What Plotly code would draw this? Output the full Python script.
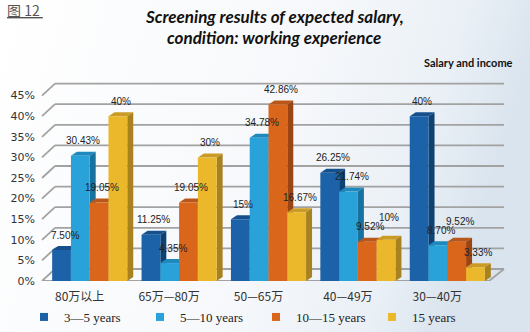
import base64
import plotly.graph_objects as go

# ---------------- data ----------------
categories = ["80万以上", "65万—80万", "50—65万", "40—49万", "30—40万"]
series_names = ["3—5 years", "5—10 years", "10—15 years", "15 years"]
v_3_5 = [7.50, 11.25, 15.00, 26.25, 40.00]
v_5_10 = [30.43, 4.35, 34.78, 21.74, 8.70]
v_10_15 = [19.05, 19.05, 42.86, 9.52, 9.52]
v_15 = [40.00, 30.00, 16.67, 10.00, 3.33]
y_ticks = [0, 5, 10, 15, 20, 25, 30, 35, 40, 45]
series_values = [v_3_5, v_5_10, v_10_15, v_15]

# ---------------- style ----------------
front_cols = ["#1B62A8", "#29A1D9", "#D9661B", "#EBB72B"]
top_cols = ["#15508C", "#1F88BD", "#B9561A", "#CB9C25"]
side_cols = ["#0F4273", "#17729F", "#9C4514", "#A8821E"]
W, H = 530, 332
PL, PR, PB = 45, 492, 281          # plot area pixels
Y_MAX = 48.5
PX_PER_UNIT = 4.12
PT = PB - Y_MAX * PX_PER_UNIT
CAT_PX = (PR - PL) / 5
BARGAP = 0.16
DX = 6 / CAT_PX                    # bar depth (x, category units)
DY = 4 / PX_PER_UNIT               # bar depth (y, percent units)
WALL_DY = 12 / PX_PER_UNIT         # back wall offset
GRID = "#A2A2A2"
GRID_W = 1.8
LABEL_SHIFT = 15

def fmt(v):
    return f"{int(round(v))}%" if abs(v - round(v)) < 1e-9 else f"{v:.2f}%"

CHAR_W = {"%": 8.9, ".": 2.8}
def text_w(s):
    return sum(CHAR_W.get(c, 5.56) for c in s)

fig = go.Figure()
nser = len(series_values)
bw = (1 - BARGAP) / nser
offsets = [(-(1 - BARGAP) / 2 + bw * (k + 0.5)) for k in range(nser)]

shapes = []
annotations = []

# back wall grid lines + slanted connectors
for t in y_ticks:
    shapes.append(dict(type="line", xref="paper", yref="y", x0=42 / W, x1=55 / W,
                       y0=t, y1=t + WALL_DY, line=dict(color=GRID, width=GRID_W), layer="below"))
    shapes.append(dict(type="line", xref="paper", yref="y", x0=55 / W, x1=504 / W,
                       y0=t + WALL_DY, y1=t + WALL_DY, line=dict(color=GRID, width=GRID_W), layer="below"))
# floor front edge and right edge
shapes.append(dict(type="line", xref="paper", yref="y", x0=42 / W, x1=489 / W, y0=0, y1=0,
                   line=dict(color=GRID, width=GRID_W), layer="below"))
shapes.append(dict(type="line", xref="paper", yref="y", x0=489 / W, x1=504 / W, y0=0, y1=WALL_DY,
                   line=dict(color=GRID, width=GRID_W), layer="below"))

for k, (name, vals) in enumerate(zip(series_names, series_values)):
    fig.add_trace(go.Bar(
        x=categories, y=vals, name=name,
        marker=dict(color=front_cols[k], line=dict(width=0)),
        showlegend=False, hoverinfo="skip",
    ))
    # legend proxy with small square symbol
    fig.add_trace(go.Scatter(
        x=[None], y=[None], mode="markers", name=name,
        marker=dict(symbol="square", size=8, color=front_cols[k]),
    ))

for i in range(len(categories)):
    prev = None
    for k, vals in enumerate(series_values):
        v = vals[i]
        xc = i + offsets[k]
        x0, x1 = xc - bw / 2, xc + bw / 2
        # top face
        shapes.append(dict(type="path", xref="x", yref="y", layer="below",
                           path=f"M{x0},{v} L{x1},{v} L{x1 + DX},{v + DY} L{x0 + DX},{v + DY} Z",
                           fillcolor=top_cols[k], line=dict(width=0)))
        # side face
        shapes.append(dict(type="path", xref="x", yref="y", layer="below",
                           path=f"M{x1},0 L{x1},{v} L{x1 + DX},{v + DY} L{x1 + DX},{DY} Z",
                           fillcolor=side_cols[k], line=dict(width=0)))
        # label with simple collision avoidance against the previous label in the group
        txt = fmt(v)
        wpx = text_w(txt)
        cx = PL + (xc + 0.5) * CAT_PX + 3
        cy = PB - v * PX_PER_UNIT - LABEL_SHIFT
        shift = LABEL_SHIFT
        if prev is not None:
            pcx, pw, pcy = prev
            if abs(cx - pcx) < (wpx + pw) / 2 and abs(cy - pcy) < 11:
                new_cy = pcy - 9
                shift += cy - new_cy
                cy = new_cy
        prev = (cx, wpx, cy)
        annotations.append(dict(x=xc, y=v, xref="x", yref="y", text=txt, showarrow=False,
                                yanchor="middle", xanchor="center", yshift=shift, xshift=3,
                                font=dict(family="Liberation Sans", size=10, color="#222")))

# titles / texts
annotations += [
    dict(x=274 / W, y=(H - 16) / H, xref="paper", yref="paper", showarrow=False,
         text="<b><i>Screening results of expected salary,</i></b>", xanchor="center", yanchor="middle",
         font=dict(family="Lato", size=17, color="#111")),
    dict(x=274 / W, y=(H - 37) / H, xref="paper", yref="paper", showarrow=False,
         text="<b><i>condition: working experience</i></b>", xanchor="center", yanchor="middle",
         font=dict(family="Lato", size=17, color="#111")),
    dict(x=515 / W, y=(H - 62) / H, xref="paper", yref="paper", showarrow=False,
         text="<b>Salary and income</b>", xanchor="right", yanchor="middle",
         font=dict(family="Lato", size=11, color="#111")),
    dict(x=5 / W, y=(H - 10) / H, xref="paper", yref="paper", showarrow=False,
         text="<u>图 12 </u>", xanchor="left", yanchor="middle",
         font=dict(family="Noto Sans CJK SC", size=14, color="#555")),
]

svg = ('<svg xmlns="http://www.w3.org/2000/svg" width="530" height="332">'
       '<defs><linearGradient id="g" x1="0" y1="0" x2="1" y2="0.2">'
       '<stop offset="0" stop-color="#ffffff"/><stop offset="0.6" stop-color="#f6f8fb"/>'
       '<stop offset="0.85" stop-color="#eaf0f6"/>'
       '<stop offset="1" stop-color="#dae4ee"/></linearGradient></defs>'
       '<rect width="530" height="332" fill="url(#g)"/></svg>')
bg_src = "data:image/svg+xml;base64," + base64.b64encode(svg.encode()).decode()

fig.update_layout(
    width=W, height=H,
    margin=dict(l=0, r=0, t=0, b=0, autoexpand=False),
    paper_bgcolor="white", plot_bgcolor="rgba(0,0,0,0)",
    barmode="group", bargap=BARGAP, bargroupgap=0,
    shapes=shapes, annotations=annotations,
    images=[dict(source=bg_src, xref="paper", yref="paper", x=0, y=1, sizex=1, sizey=1,
                 xanchor="left", yanchor="top", sizing="stretch", layer="below")],
    xaxis=dict(domain=[PL / W, PR / W], type="category", range=[-0.5, 4.5],
               showgrid=False, zeroline=False, showline=False, ticks="",
               ticklabelshift=-10, ticklabelstandoff=7,
               tickfont=dict(family="Noto Sans CJK SC", size=12, color="#333")),
    yaxis=dict(domain=[(H - PB) / H, (H - PT) / H], range=[0, Y_MAX],
               tickvals=y_ticks, ticktext=[f"{t}%" for t in y_ticks],
               showgrid=False, zeroline=False, showline=False,
               ticks="", ticklabelstandoff=9,
               tickfont=dict(family="DejaVu Sans", size=11, color="#333")),
    legend=dict(orientation="h", x=24 / W, xanchor="left", y=15 / H, yanchor="middle",
                bgcolor="rgba(0,0,0,0)", entrywidthmode="pixels", entrywidth=71,
                itemwidth=30, font=dict(family="Liberation Serif", size=13, color="#222")),
    showlegend=True,
)

fig.write_html("out.html")
